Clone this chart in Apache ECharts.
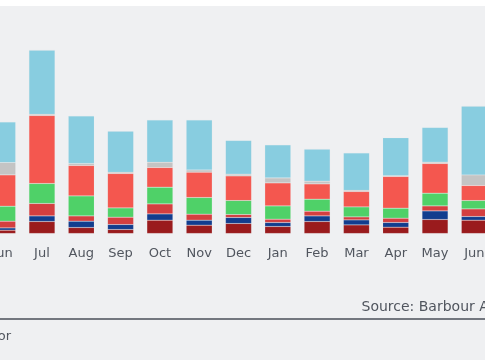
<!DOCTYPE html>
<html>
<head>
<meta charset="utf-8">
<script src="https://cdn.jsdelivr.net/npm/echarts@6/dist/echarts.min.js"></script>
<style>
html,body{margin:0;padding:0;background:#ffffff;overflow:hidden;width:485px;height:360px;position:relative;}
#bg{position:absolute;left:0;top:6px;width:485px;height:354px;background:#eff0f2;}
#c{position:absolute;left:-17.5px;top:0;width:511.2px;height:360px;}
</style>
</head>
<body>
<div id="bg"></div>
<div id="c"></div>
<script>
var categories = ['Jun','Jul','Aug','Sep','Oct','Nov','Dec','Jan','Feb','Mar','Apr','May','Jun'];
var darkRed   = [3.3, 12, 6, 4, 13.3, 8.3, 10, 7, 12, 8.6, 6.3, 14, 13.3];
var navy      = [2.3, 5.6, 6.3, 5, 6.3, 5, 6, 4, 5.6, 5, 4.7, 8.6, 3.7];
var red       = [6.7, 12.4, 5.3, 7.3, 10, 6, 3, 3.3, 4.7, 3, 4.3, 5, 7.6];
var green     = [15, 20, 20, 9.3, 16.7, 16.7, 14, 13.3, 12, 10, 10, 12.7, 8.4];
var coral     = [31.3, 68, 30.4, 34.4, 19.7, 25.3, 24.6, 23, 15.3, 15.4, 31.7, 29.7, 15];
var grey      = [12.4, 1.3, 2, 1.3, 5.3, 2.3, 1.7, 5, 2.7, 1.3, 0.7, 1.3, 10.6];
var lightBlue = [40.6, 64, 47.6, 41, 42.3, 50, 33.7, 33, 32, 37.3, 38, 34.7, 68.7];

var seriesData = [
  {name:'s1', data: darkRed,   color:'#9a1b1d'},
  {name:'s2', data: navy,      color:'#123d8e'},
  {name:'s3', data: red,       color:'#d43f40'},
  {name:'s4', data: green,     color:'#4fd168'},
  {name:'s5', data: coral,     color:'#f4574f'},
  {name:'s6', data: grey,      color:'#c4c4c4'},
  {name:'s7', data: lightBlue, color:'#88cde0'}
];

var ox = 17.5;
var chart = echarts.init(document.getElementById('c'), null, {renderer:'canvas'});
chart.setOption({
  backgroundColor: 'transparent',
  animation: false,
  grid: {left: 0, right: 0, top: 33.5, bottom: 126.5, containLabel: false},
  xAxis: {
    type: 'category',
    data: categories,
    axisLine: {show: false},
    axisTick: {show: false},
    axisLabel: {color: '#50555e', fontSize: 13, fontFamily: 'DejaVu Sans', margin: 14}
  },
  yAxis: {type: 'value', min: 0, max: 200, show: false, splitLine: {show: false}},
  graphic: [
    {type:'line', shape:{x1:0,y1:319,x2:520,y2:319}, style:{stroke:'#4a4f58', lineWidth:1.5}},
    {type:'text', x:361+ox, y:307, style:{text:'Source: Barbour ABI', fill:'#50555e', font:'14px "DejaVu Sans"', textVerticalAlign:'middle', textAlign:'left'}},
    {type:'text', x:10.5+ox, y:337, style:{text:'Contractor', fill:'#50555e', font:'13px "DejaVu Sans"', textVerticalAlign:'middle', textAlign:'right'}}
  ],
  series: seriesData.map(function(s){
    return {
      name: s.name, type: 'bar', stack: 'total', barWidth: 26,
      data: s.data,
      itemStyle: {color: s.color, borderColor: 'rgba(235,235,235,0.5)', borderWidth: 0.5, borderType: 'dotted'}
    };
  })
});
</script>
</body>
</html>
